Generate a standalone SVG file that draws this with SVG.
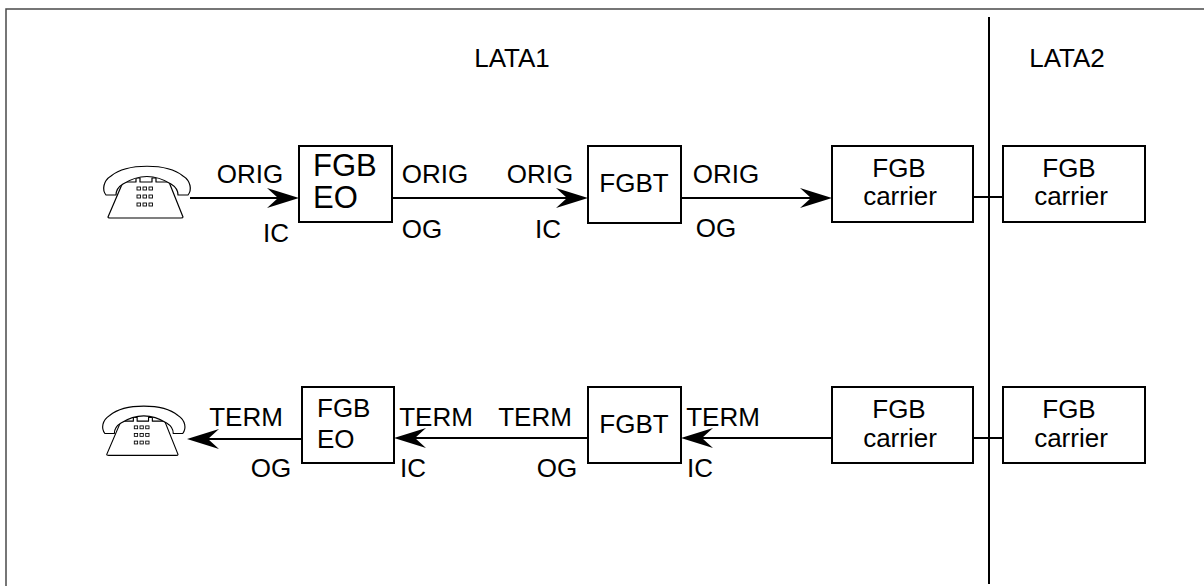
<svg xmlns="http://www.w3.org/2000/svg" width="1204" height="586" viewBox="0 0 1204 586">
<defs>
<style>
text{font-family:"Liberation Sans",Arial,sans-serif;font-size:26px;fill:#000}
.m{text-anchor:middle}
.big{font-size:31px}
.box{fill:#fff;stroke:#000;stroke-width:2}
.ln{fill:none;stroke:#000;stroke-width:2}
.ph{fill:#fff;stroke:#000;stroke-width:1.2;stroke-linejoin:round}
.key{fill:#fff;stroke:#000;stroke-width:0.9}
</style>
<marker id="ah" viewBox="0 0 32 20" refX="28" refY="10" markerWidth="32" markerHeight="20" markerUnits="userSpaceOnUse" orient="auto">
<path d="M0,0 L32,10 L0,20 L11,10 Z" fill="#000"/>
</marker>
<symbol id="phone" viewBox="0 0 90 56" width="90" height="56" overflow="visible">
<path class="ph" d="M20,17 L33,17 L33,13 L37,13 L37,17 L49,17 L49,13 L53,13 L53,17 L66,17 L80,52 Q80,53 78,53 L7,53 Q5,53 5,52 Z"/>
<path class="ph" d="M3,30 C-1,25 0,16 8,11 C24,-2 64,-2 80,11 C88,16 89,25 85,30 L75,30 C75,26 73,22 68,19 C52,9 36,9 20,19 C15,22 13,26 13,30 Z"/>
<g class="key">
<rect x="34" y="22" width="3.5" height="3"/><rect x="40" y="22" width="3.5" height="3"/><rect x="46" y="22" width="3.5" height="3"/>
<rect x="34" y="30" width="3.5" height="3"/><rect x="40" y="30" width="3.5" height="3"/><rect x="46" y="30" width="3.5" height="3"/>
<rect x="34" y="38" width="3.5" height="3"/><rect x="40" y="38" width="3.5" height="3"/><rect x="46" y="38" width="3.5" height="3"/>
</g>
</symbol>
</defs>
<rect width="1204" height="586" fill="#fff"/>
<path d="M6,586 L6,9 L1204,9" fill="none" stroke="#4a4a4a" stroke-width="1.5"/>

<g id="lata-divider"><line class="ln" x1="989" y1="17" x2="989" y2="584"/></g>
<g id="lata-labels">
<text class="m" x="512" y="67">LATA1</text>
<text class="m" x="1067" y="67">LATA2</text>
</g>

<g id="connectors">
<line class="ln" x1="190" y1="198" x2="295" y2="198" marker-end="url(#ah)"/>
<line class="ln" x1="392" y1="198" x2="584" y2="198" marker-end="url(#ah)"/>
<line class="ln" x1="681" y1="198" x2="828" y2="198" marker-end="url(#ah)"/>
<line class="ln" x1="973" y1="197" x2="1003" y2="197"/>
<line class="ln" x1="302" y1="439" x2="191" y2="439" marker-end="url(#ah)"/>
<line class="ln" x1="588" y1="438" x2="398" y2="438" marker-end="url(#ah)"/>
<line class="ln" x1="832" y1="438" x2="685" y2="438" marker-end="url(#ah)"/>
<line class="ln" x1="973" y1="438" x2="1003" y2="438"/>
</g>

<g id="labels">
<text class="m" x="250" y="183">ORIG</text>
<text class="m" x="276" y="242">IC</text>
<text class="m" x="435" y="183">ORIG</text>
<text class="m" x="422" y="238">OG</text>
<text class="m" x="540" y="183">ORIG</text>
<text class="m" x="548" y="238">IC</text>
<text class="m" x="726" y="183">ORIG</text>
<text class="m" x="716" y="237">OG</text>
<text class="m" x="246" y="426">TERM</text>
<text class="m" x="271" y="477">OG</text>
<text class="m" x="436" y="426">TERM</text>
<text class="m" x="413" y="477">IC</text>
<text class="m" x="535" y="426">TERM</text>
<text class="m" x="557" y="477">OG</text>
<text class="m" x="723" y="426">TERM</text>
<text class="m" x="700" y="477">IC</text>
</g>

<g id="phone-top"><use href="#phone" x="103" y="165"/></g>
<g id="phone-bottom"><use href="#phone" transform="translate(102,405) scale(0.95)"/></g>

<g id="fgb-eo-top">
<rect class="box" x="299" y="146" width="93" height="76"/>
<text class="big" x="313" y="176">FGB</text>
<text class="big" x="313" y="208">EO</text>
</g>
<g id="fgbt-top">
<rect class="box" x="588" y="146" width="93" height="77"/>
<text class="m" x="634" y="192">FGBT</text>
</g>
<g id="fgb-carrier-top-1">
<rect class="box" x="832" y="146" width="141" height="76"/>
<text class="m" x="899" y="177">FGB</text>
<text class="m" x="900" y="205">carrier</text>
</g>
<g id="fgb-carrier-top-2">
<rect class="box" x="1003" y="146" width="142" height="76"/>
<text class="m" x="1069" y="177">FGB</text>
<text class="m" x="1071" y="205">carrier</text>
</g>

<g id="fgb-eo-bottom">
<rect class="box" x="302" y="387" width="92" height="76"/>
<text x="317" y="417">FGB</text>
<text x="317" y="448">EO</text>
</g>
<g id="fgbt-bottom">
<rect class="box" x="588" y="387" width="93" height="76"/>
<text class="m" x="634" y="433">FGBT</text>
</g>
<g id="fgb-carrier-bottom-1">
<rect class="box" x="832" y="387" width="141" height="76"/>
<text class="m" x="899" y="418">FGB</text>
<text class="m" x="900" y="447">carrier</text>
</g>
<g id="fgb-carrier-bottom-2">
<rect class="box" x="1003" y="387" width="142" height="76"/>
<text class="m" x="1069" y="418">FGB</text>
<text class="m" x="1071" y="447">carrier</text>
</g>
</svg>
